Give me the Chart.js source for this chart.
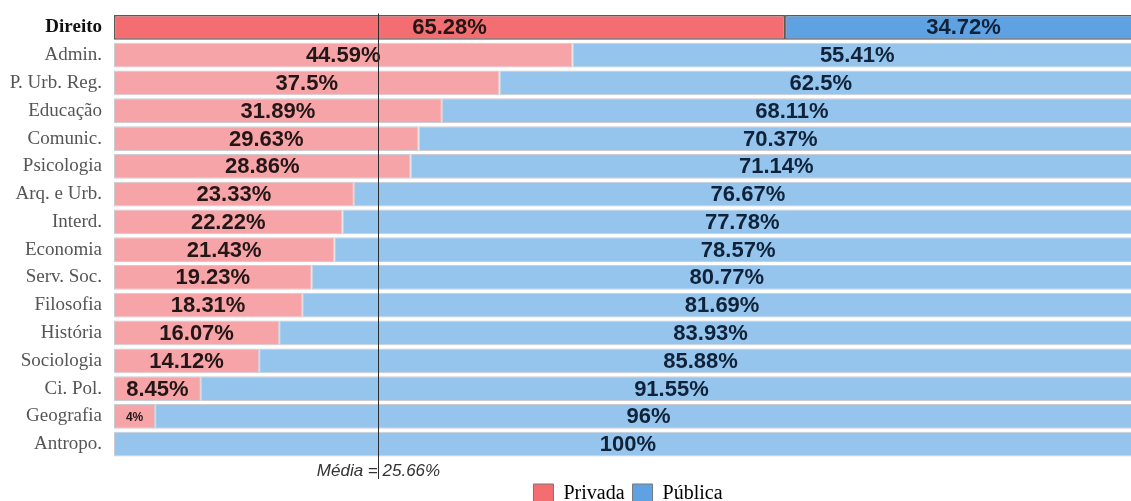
<!DOCTYPE html>
<html lang="pt">
<head>
    <meta charset="UTF-8">
    <title>Privada x Pública por área</title>
    <script src="https://cdn.jsdelivr.net/npm/chart.js"></script>
    <style>
        html, body {
            margin: 0;
            padding: 0;
            background: #ffffff;
            overflow: hidden;
        }
        .wrap {
            width: 1142px;
            height: 514px;
        }
    </style>
</head>
<body>
    <div class="wrap">
        <canvas id="areaChart" width="1142" height="514"></canvas>
    </div>

    <script>
        // dados
        const areas = ['Direito', 'Admin.', 'P. Urb. Reg.', 'Educação', 'Comunic.', 'Psicologia',
            'Arq. e Urb.', 'Interd.', 'Economia', 'Serv. Soc.', 'Filosofia', 'História',
            'Sociologia', 'Ci. Pol.', 'Geografia', 'Antropo.'];
        const privada = [65.28, 44.59, 37.5, 31.89, 29.63, 28.86, 23.33, 22.22, 21.43, 19.23,
            18.31, 16.07, 14.12, 8.45, 4, 0];
        const publica = [34.72, 55.41, 62.5, 68.11, 70.37, 71.14, 76.67, 77.78, 78.57, 80.77,
            81.69, 83.93, 85.88, 91.55, 96, 100];
        const media = 25.66;

        const corPrivada = '#f46d70';
        const corPrivadaClara = '#f6a4a8';
        const corPublica = '#5fa2e2';
        const corPublicaClara = '#95c5ec';

        // rótulos de porcentagem no meio de cada segmento
        const rotulos = {
            id: 'rotulos',
            afterDatasetsDraw(chart) {
                const ctx = chart.ctx;
                ctx.save();
                ctx.textAlign = 'center';
                ctx.textBaseline = 'middle';
                chart.data.datasets.forEach((ds, i) => {
                    const meta = chart.getDatasetMeta(i);
                    meta.data.forEach((bar, j) => {
                        const v = ds.data[j];
                        if (!v) return;
                        const pequeno = v < 6;
                        ctx.font = 'bold ' + (pequeno ? 12 : 22) + 'px "Liberation Sans", Arial, sans-serif';
                        ctx.fillStyle = i === 0 ? '#231616' : '#10223a';
                        ctx.fillText(v + '%', (bar.x + bar.base) / 2, bar.y + 1);
                    });
                });
                ctx.restore();
            }
        };

        // linha vertical da média
        const linhaMedia = {
            id: 'linhaMedia',
            afterDatasetsDraw(chart) {
                const ctx = chart.ctx;
                const area = chart.chartArea;
                const x = Math.round(chart.scales.x.getPixelForValue(media)) + 0.5;
                ctx.save();
                ctx.font = 'italic 17px "Liberation Sans", Arial, sans-serif';
                ctx.fillStyle = '#333';
                ctx.textAlign = 'center';
                ctx.textBaseline = 'middle';
                ctx.fillText('Média = ' + media + '%', x, area.bottom + 13);
                ctx.strokeStyle = '#2b2b2b';
                ctx.lineWidth = 1;
                ctx.beginPath();
                ctx.moveTo(x, area.top);
                ctx.lineTo(x, area.bottom + 21);
                ctx.stroke();
                ctx.restore();
            }
        };

        const ctx = document.getElementById('areaChart').getContext('2d');
        new Chart(ctx, {
            type: 'bar',
            data: {
                labels: areas,
                datasets: [{
                    label: 'Privada',
                    data: privada,
                    backgroundColor: c => c.dataIndex === 0 ? corPrivada : corPrivadaClara,
                    borderColor: c => c.dataIndex === 0 ? '#5a5a5a' : 'rgba(170,170,180,0.6)',
                    borderWidth: c => c.dataIndex === 0 ? 1.5 : 1,
                    borderSkipped: false
                }, {
                    label: 'Pública',
                    data: publica,
                    backgroundColor: c => c.dataIndex === 0 ? corPublica : corPublicaClara,
                    borderColor: c => c.dataIndex === 0 ? '#5a5a5a' : 'rgba(170,170,180,0.6)',
                    borderWidth: c => c.dataIndex === 0 ? 1.5 : 1,
                    borderSkipped: false
                }]
            },
            options: {
                indexAxis: 'y',
                responsive: false,
                animation: false,
                layout: { padding: { top: 12.5, right: 0, bottom: 0, left: 0 } },
                datasets: {
                    bar: { categoryPercentage: 1, barPercentage: 0.89 }
                },
                scales: {
                    x: {
                        stacked: true,
                        min: 0,
                        max: 100,
                        grid: { display: false },
                        border: { display: false },
                        ticks: { display: false },
                        afterFit(scale) { scale.height = 18; }
                    },
                    y: {
                        stacked: true,
                        grid: { display: false },
                        border: { display: false },
                        ticks: {
                            padding: 4,
                            color: c => c.index === 0 ? '#111' : '#555',
                            font: c => ({
                                family: '"Liberation Serif", "Times New Roman", serif',
                                size: 19,
                                lineHeight: 1,
                                weight: c.index === 0 ? 'bold' : 'normal'
                            })
                        },
                        afterFit(scale) { scale.width = 114; }
                    }
                },
                plugins: {
                    tooltip: { enabled: false },
                    legend: {
                        position: 'bottom',
                        fullSize: false,
                        labels: {
                            boxWidth: 20,
                            boxHeight: 20,
                            padding: 8,
                            color: '#333',
                            font: { family: '"Liberation Serif", "Times New Roman", serif', size: 20 },
                            generateLabels: () => [
                                { text: 'Privada', fillStyle: corPrivada, strokeStyle: '#777', lineWidth: 1, datasetIndex: 0 },
                                { text: 'Pública', fillStyle: corPublica, strokeStyle: '#777', lineWidth: 1, datasetIndex: 1 }
                            ]
                        }
                    }
                }
            },
            plugins: [rotulos, linhaMedia]
        });
    </script>
</body>
</html>
